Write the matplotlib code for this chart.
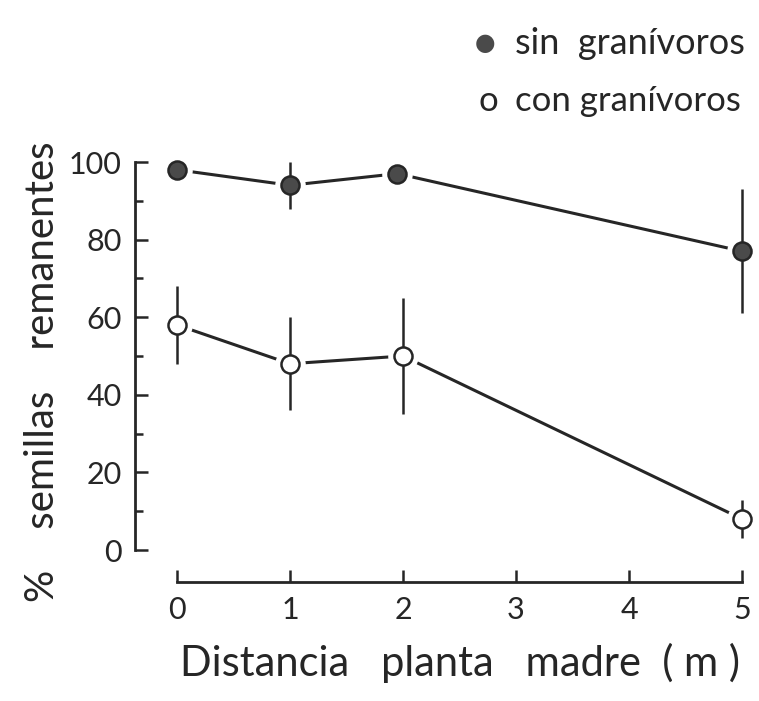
import matplotlib.pyplot as plt
from matplotlib.ticker import MultipleLocator

# distance from mother plant (m)
x_sin = [0, 1, 1.95, 5]
x_con = [0, 1, 2, 5]
# % seeds remaining, with error bars
sin_vals = [98, 94, 97, 77]
sin_err = [0, 6, 0, 16]
con_vals = [58, 48, 50, 8]
con_err = [10, 12, 15, 5]

x_ticks = [0, 1, 2, 3, 4, 5]
y_ticks = [0, 20, 40, 60, 80, 100]

plt.rcParams['font.family'] = ['Lato', 'DejaVu Sans']
ink = '#262626'

W, H = 759, 701
fig = plt.figure(figsize=(W / 100, H / 100), dpi=100)
ax = fig.add_axes([177 / W, (H - 550) / H, (742 - 177) / W, (550 - 162) / H])
ax.set_xlim(0, 5)
ax.set_ylim(0, 100)

for xs, vals, err, face in [(x_sin, sin_vals, sin_err, '#4a4a4a'),
                            (x_con, con_vals, con_err, 'white')]:
    ax.plot(xs, vals, color=ink, lw=2.2, clip_on=False, zorder=1)
    # white halo so the line stops short of the marker
    ax.plot(xs, vals, 'o', ms=22, color='white', mec='none', clip_on=False, zorder=2)
    ax.errorbar(xs, vals, yerr=err, fmt='none', ecolor=ink, elinewidth=1.8,
                capsize=0, clip_on=False, zorder=3)
    ax.plot(xs, vals, 'o', ms=13, mfc=face, mec=ink, mew=1.8,
            clip_on=False, zorder=4)

for s in ['top', 'right']:
    ax.spines[s].set_visible(False)
ax.spines['left'].set_position(('outward', 30))
ax.spines['bottom'].set_position(('outward', 23))
ax.spines['left'].set_bounds(0, 100)
ax.spines['bottom'].set_bounds(0, 5)
for s in ['left', 'bottom']:
    ax.spines[s].set_linewidth(2)
    ax.spines[s].set_color(ink)

ax.set_xticks(x_ticks)
ax.set_yticks(y_ticks)
ax.yaxis.set_minor_locator(MultipleLocator(10))
ax.tick_params(which='both', direction='in', color=ink, width=1.8)
ax.tick_params(which='major', length=9)
ax.tick_params(which='minor', length=6)
ax.tick_params(axis='both', which='major', labelsize=22, pad=10, labelcolor=ink)

ax.set_xlabel('Distancia   planta   madre  ( m )', fontsize=30,
              color=ink, labelpad=14)
ax.set_ylabel('%    semillas    remanentes', fontsize=29, color=ink)
ax.yaxis.set_label_coords(-0.205, 0.46)

# legend drawn as text with markers
fig.text(485 / W, 1 - 43 / H, '●', fontsize=17, color='#4a4a4a',
         ha='center', va='center', family='DejaVu Sans')
fig.text(515 / W, 1 - 43 / H, 'sin  granívoros', fontsize=26,
         color=ink, va='center')
fig.text(488 / W, 1 - 101 / H, 'o', fontsize=25, color=ink,
         ha='center', va='center')
fig.text(515 / W, 1 - 101 / H, 'con granívoros', fontsize=25,
         color=ink, va='center')

fig.savefig('out.png', dpi=100)
